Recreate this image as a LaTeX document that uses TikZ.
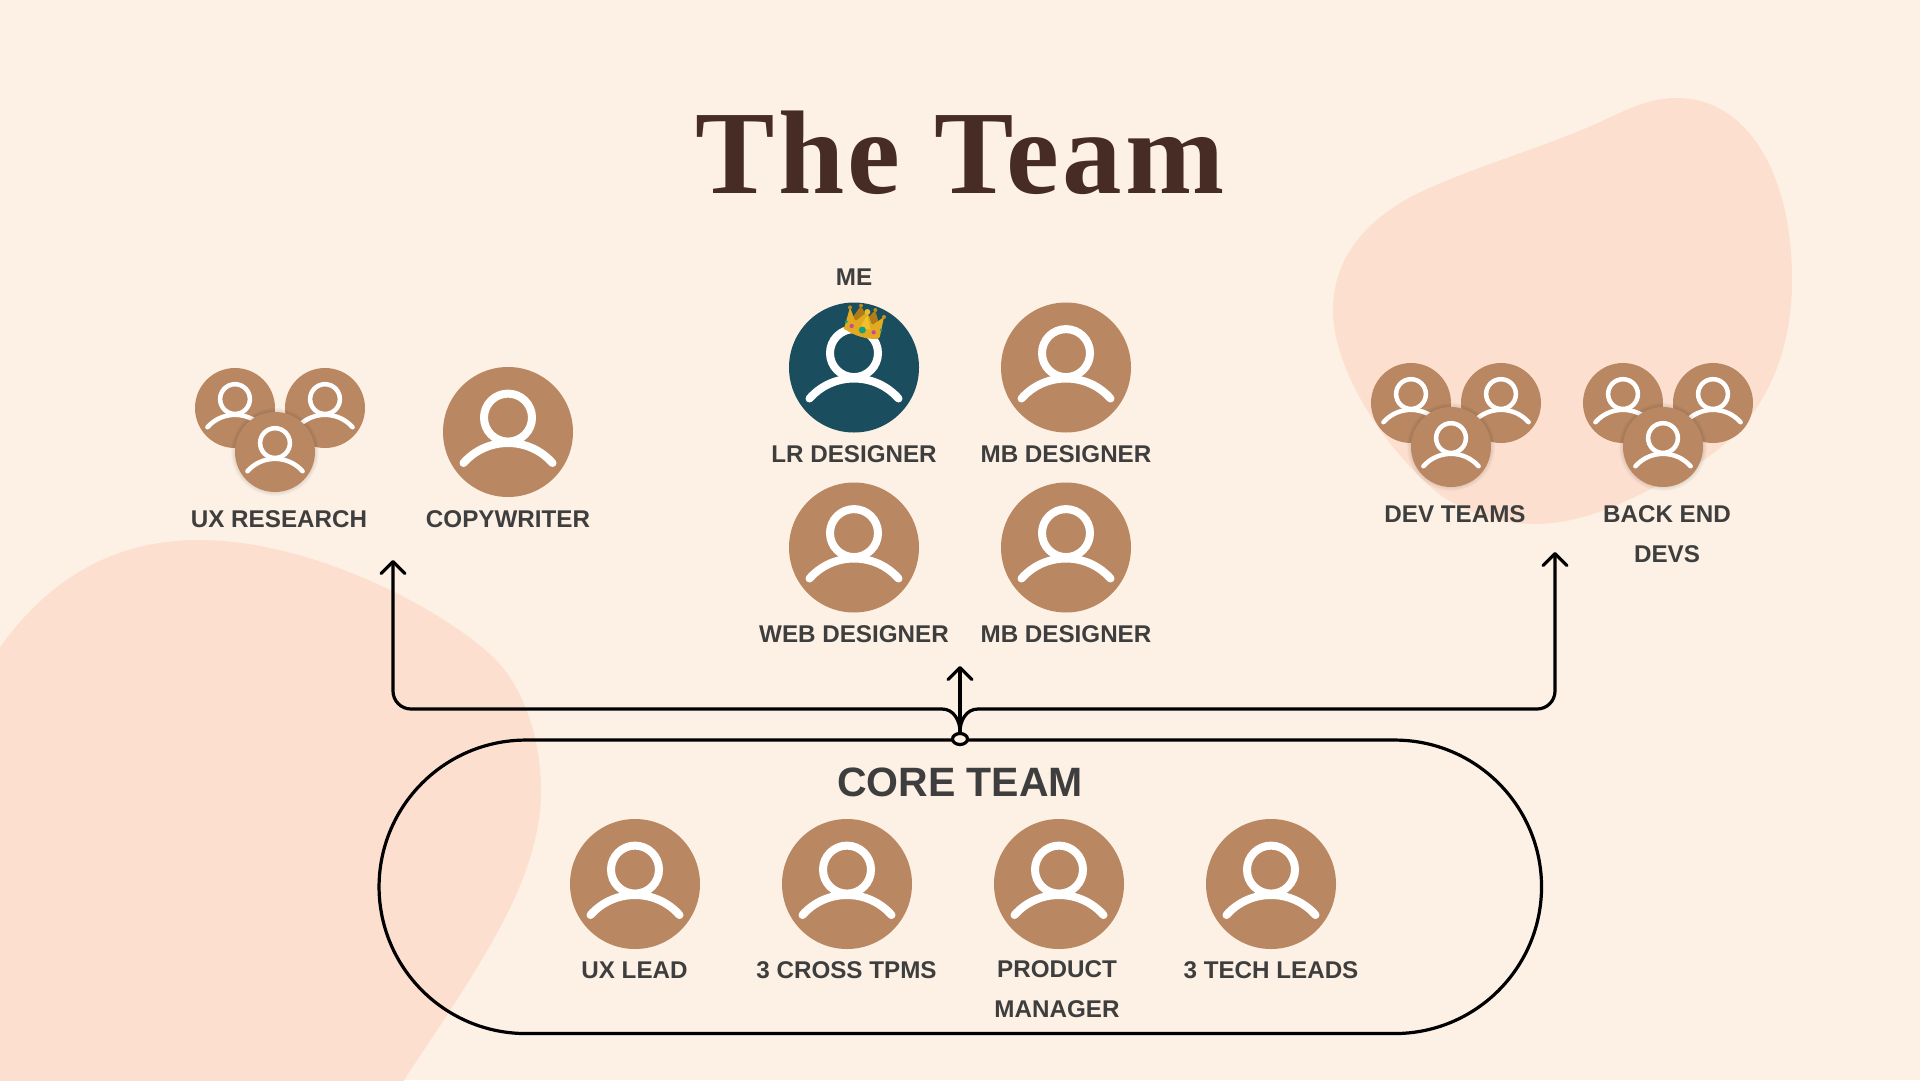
\documentclass[tikz,border=0pt]{standalone}
\usepackage{fontspec}
\usetikzlibrary{arrows.meta,shapes.geometric}
\newfontfamily\labelfont{Liberation Sans}
\newfontfamily\titlefont[LetterSpace=3.0]{Liberation Serif}
\definecolor{paper}{HTML}{FDF0E4}
\definecolor{blob}{HTML}{FCDFCE}
\definecolor{clay}{HTML}{B98863}
\definecolor{teal}{HTML}{1A4D5E}
\definecolor{ink}{HTML}{3E3E3E}
\definecolor{cocoa}{HTML}{462C24}
\tikzset{
  face/.style={circle,fill=clay,draw=none,inner sep=0pt,minimum size=130pt},
  miniface/.style={circle,fill=clay,draw=none,inner sep=0pt,minimum size=80pt},
  glyph/.style={draw=white,line cap=round},
  lbl/.style={inner sep=0pt,text=ink,align=center,font=\labelfont\bfseries\fontsize{24.2}{40}\selectfont},
  wire/.style={draw=black,line width=3.2pt,line cap=round,-{Straight Barb[length=12pt,width=24pt,line width=3.2pt,round]}},
}
\newcommand{\personglyph}[4]{% x,y,scale,line width
  \begin{scope}[shift={(#1,#2)},scale=#3]
    \draw[glyph,line width=#4] (0,-14.4) circle (24);
    \draw[glyph,line width=#4] (-44.5,31) .. controls (-33,18) and (-17,11) .. (0,11) .. controls (17,11) and (33,18) .. (44.5,31);
  \end{scope}}
\newcommand{\bigperson}[4][fill=clay]{%
  \node[face,#1] (#2) at (#3,#4) {};
  \personglyph{#3}{#4}{1}{8pt}}
\newcommand{\miniperson}[3]{%
  \node[miniface] (#1) at (#2,#3) {};
  \personglyph{#2}{#3}{0.62}{4.5pt}}
\newcommand{\softshadow}[2]{%
  \foreach \rr in {41,42,43,44}{\fill[black,opacity=0.025] (#1,#2) circle (\rr);}}
\newcommand{\trio}[7]{% names + coordinates of three faces
  \miniperson{#1a}{#2}{#3}
  \miniperson{#1b}{#4}{#5}
  \softshadow{#6}{#7}
  \miniperson{#1c}{#6}{#7}}
\begin{document}
\begin{tikzpicture}[x=1pt,y=-1pt]
\useasboundingbox (0,0) rectangle (1920,1080);
\fill[paper] (0,0) rectangle (1920,1080);
\begin{scope}
\clip (0,0) rectangle (1920,1080);
\fill[blob] (1677,98) .. controls (1650,98) and (1630,108) .. (1600,122)
  .. controls (1550,145) and (1480,165) .. (1425,190)
  .. controls (1370,215) and (1333,255) .. (1333,310)
  .. controls (1333,370) and (1385,450) .. (1440,495)
  .. controls (1470,515) and (1505,524) .. (1534,524)
  .. controls (1590,524) and (1640,495) .. (1690,468)
  .. controls (1760,430) and (1792,360) .. (1792,280)
  .. controls (1792,170) and (1745,98) .. (1677,98) -- cycle;
\fill[blob] (-20,678) .. controls (20,610) and (85,540) .. (199,540)
  .. controls (310,540) and (440,607) .. (493,657)
  .. controls (527,690) and (541,745) .. (541,790)
  .. controls (541,880) and (480,965) .. (404,1080)
  -- (380,1120) -- (-40,1120) -- cycle;
\end{scope}

\node[inner sep=0pt,anchor=base,text=cocoa,font=\titlefont\bfseries\fontsize{119}{119}\selectfont] (title) at (960,193) {The Team};

% core group
\node[draw=black,line width=3.2pt,rectangle,rounded corners=147pt,minimum width=1162.5pt,minimum height=293.5pt,inner sep=0pt] (core) at (960.3,886.8) {};
\coordinate (leftTip) at (393,560);
\coordinate (leftCorner) at (393,709);
\coordinate (leftBend) at (942,709);
\coordinate (midTip) at (960,666);
\coordinate (rightTip) at (1555,552);
\coordinate (rightCorner) at (1555,709);
\coordinate (rightBend) at (978,709);
\node[lbl,font=\labelfont\bfseries\fontsize{41}{41}\selectfont] (coretitle) at (960,782) {CORE TEAM};

% connectors
\node[draw=black,fill=paper,line width=3.2pt,ellipse,minimum width=15pt,minimum height=11pt,inner sep=0pt] (hub) at (960,739) {};
\draw[wire] (hub.north) .. controls (960,721) and (954,709) .. (leftBend) [rounded corners=18pt] -- (leftCorner) -- (leftTip);
\draw[wire] (hub.north) .. controls (960,721) and (966,709) .. (rightBend) [rounded corners=18pt] -- (rightCorner) -- (rightTip);
\draw[wire] (hub.north) -- (midTip);

% left groups
\trio{ux}{235}{408}{325}{408}{275}{452}
\node[lbl] (uxlabel) at (279,519) {UX RESEARCH};
\bigperson{copy}{508}{432}
\node[lbl] (copylabel) at (508,519) {COPYWRITER};

% centre
\node[lbl] (melabel) at (854,277) {ME};
\bigperson[fill=teal]{lr}{854}{367.5}
\node[lbl] (lrlabel) at (854,454) {LR DESIGNER};
\bigperson{mbone}{1066}{367.5}
\node[lbl] (mbonelabel) at (1066,454) {MB DESIGNER};
\bigperson{web}{854}{547.5}
\node[lbl] (weblabel) at (854,634) {WEB DESIGNER};
\bigperson{mbtwo}{1066}{547.5}
\node[lbl] (mbtwolabel) at (1066,634) {MB DESIGNER};

% crown
\begin{scope}[shift={(760,250)},scale=1/3]
  \fill[rounded corners=3pt,fill={rgb,255:red,176;green,124;blue,22}] (262,225) -- (303,167) -- (322,205) -- (346,180) -- (364,250) -- cycle;
  \fill[rounded corners=2pt,fill={rgb,255:red,226;green,170;blue,30}] (252,236) -- (270,172) -- (286,214) -- (322,186) -- (336,226) -- (372,201) -- (358,267) .. controls (320,268) and (285,258) .. cycle;
  \fill[fill={rgb,255:red,240;green,192;blue,48}] (300,232) -- (322,195) -- (332,240) -- cycle;
  \foreach \cx/\cy/\cr/\cc in {270/172/6/B98A18,303/167/6/B98A18,346/180/6/B98A18,372/201/6/C4941C,322/186/9/E8BC30}{
    \definecolor{tmpc}{HTML}{\cc}
    \fill[tmpc] (\cx,\cy) circle (\cr);}
  \fill[fill={rgb,255:red,20;green,160;blue,120}] (307,240) circle (10.5);
  \fill[fill={rgb,255:red,20;green,160;blue,120}] (259,215) circle (5);
  \fill[fill={rgb,255:red,20;green,160;blue,120}] (363,240) circle (4.5);
  \fill[fill={rgb,255:red,205;green,70;blue,160}] (275,228) circle (6.5);
  \fill[fill={rgb,255:red,205;green,70;blue,160}] (341,247) circle (6.5);
\end{scope}

% right groups
\trio{dev}{1411}{403}{1501}{403}{1451}{447}
\node[lbl] (devlabel) at (1455,514.5) {DEV TEAMS};
\trio{back}{1623}{403}{1713}{403}{1663}{447}
\node[lbl] (backlabel) at (1667,534.5) {BACK END\\DEVS};

% core members
\bigperson{lead}{635}{884}
\node[lbl] (leadlabel) at (634.5,970) {UX LEAD};
\bigperson{tpm}{847}{884}
\node[lbl] (tpmlabel) at (846.5,970) {3 CROSS TPMS};
\bigperson{pm}{1059}{884}
\node[lbl] (pmlabel) at (1057,989) {PRODUCT\hspace{4pt}\\MANAGER};
\bigperson{tech}{1271}{884}
\node[lbl] (techlabel) at (1271,970) {3 TECH LEADS};
\end{tikzpicture}
\end{document}
